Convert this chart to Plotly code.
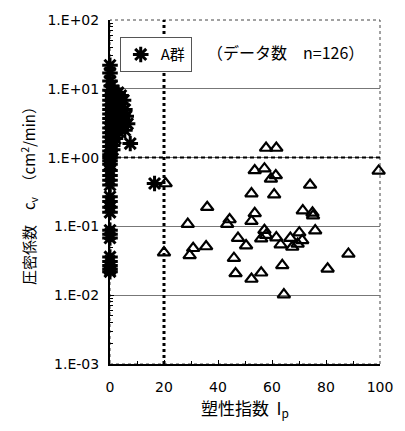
import plotly.graph_objects as go

# A群 (asterisks): plasticity index Ip, consolidation coefficient cv
ip_a = [0, 0, 0, 0.5,
        0, 0, 0, 0, 0, 0, 0, 0, 0, 0, 0, 0, 0, 0, 0,
        1, 1, 1, 1, 1, 1, 1, 1, 1, 1, 1, 1, 1,
        2, 2, 2, 2, 2, 2, 2, 2, 2, 2,
        3, 3, 3, 3, 3, 3, 3, 3,
        4, 4, 4, 4, 4, 4,
        5, 5.5, 6, 6.5, 5.5,
        7.5,
        0, 0, 0,
        0, 0, 0, 0,
        0, 0, 0, 0,
        0, 0, 0,
        0, 0, 0, 0, 0,
        16.5]
cv_a = [22, 17, 13, 11,
        9.5, 8, 6.8, 5.8, 5, 4.3, 3.7, 3.2, 2.7, 2.3, 2.0, 1.7, 1.45, 1.25, 1.1,
        9, 7.2, 6, 5.2, 4.5, 3.9, 3.4, 2.9, 2.5, 2.1, 1.8, 1.5, 1.3,
        8.5, 7.6, 6.5, 5.5, 4.8, 4.0, 3.3, 2.6, 2.2, 1.9,
        8.8, 7.0, 5.9, 5.0, 4.2, 3.6, 3.0, 2.4,
        8, 6.2, 4.6, 3.8, 3.2, 2.7,
        6.8, 5.0, 4.0, 3.1, 2.5,
        1.6,
        1.0, 0.9, 0.8,
        0.65, 0.55, 0.47, 0.40,
        0.27, 0.23, 0.19, 0.16,
        0.088, 0.077, 0.068,
        0.036, 0.031, 0.027, 0.024, 0.022,
        0.42]

# Other data (triangles)
ip_tri = [57.8, 61.6, 53.6, 57.2, 59.6, 61.4, 99.5, 74.1, 52.4, 60.8,
          36.0, 53.6, 71.4, 75.0, 75.2, 44.3, 52.4, 43.4, 28.8, 57.2,
          76.0, 70.1, 57.8, 56.0, 47.4, 61.6, 66.8, 71.2, 63.2, 69.5,
          67.5, 50.4, 30.8, 35.6, 20.0, 29.5, 45.9, 88.3, 63.8, 80.6,
          46.5, 56.0, 52.4, 64.4, 20.6]
cv_tri = [1.38, 1.38, 0.65, 0.69, 0.49, 0.55, 0.64, 0.40, 0.30, 0.29,
          0.19, 0.155, 0.17, 0.157, 0.143, 0.126, 0.119, 0.108, 0.108, 0.088,
          0.087, 0.081, 0.0746, 0.0665, 0.0676, 0.0687, 0.0676, 0.0627, 0.0542, 0.0555,
          0.0502, 0.0527, 0.0481, 0.051, 0.0416, 0.038, 0.0345, 0.0398, 0.0272, 0.0242,
          0.0207, 0.0212, 0.0172, 0.0102, 0.42]

ytick_vals = [1e-3, 1e-2, 1e-1, 1, 10, 100]
ytick_text = ["1.E-03", "1.E-02", "1.E-01", "1.E+00", "1.E+01", "1.E+02"]
xtick_vals = [0, 20, 40, 60, 80, 100]
minor_mult = [2, 3, 4, 5, 6, 7, 8, 9]
y_minor = [m * d for d in [1e-3, 1e-2, 1e-1, 1, 10] for m in minor_mult]

latin = "DejaVu Sans, Liberation Sans, Noto Sans CJK JP"
jp = "Noto Sans CJK JP, Liberation Sans"

fig = go.Figure()
fig.add_trace(go.Scatter(
    x=ip_tri, y=cv_tri, mode="markers", showlegend=False, cliponaxis=False,
    marker=dict(symbol="triangle-up-open", size=11, color="black",
                line=dict(width=2.2, color="black"))))
fig.add_trace(go.Scatter(
    x=ip_a, y=cv_a, mode="markers", name="A群", cliponaxis=False,
    marker=dict(symbol="asterisk-open", size=13, color="black",
                line=dict(width=3, color="black"))))

fig.add_shape(type="rect", xref="paper", yref="paper", x0=0, x1=1, y0=0, y1=1,
              line=dict(color="#444", width=1, dash="dot"), layer="below")
fig.add_shape(type="line", xref="paper", yref="y", x0=0, x1=1, y0=1, y1=1,
              line=dict(color="black", width=2, dash="4px,3px"))
fig.add_shape(type="line", xref="x", yref="paper", x0=20, x1=20, y0=0, y1=1,
              line=dict(color="black", width=3, dash="dot"))

fig.add_annotation(x=0.65, y=0.948, xref="paper", yref="paper",
                   text="（データ数　n=126）", showarrow=False,
                   font=dict(family=jp, size=16, color="black"))

fig.update_layout(
    width=405, height=431,
    margin=dict(l=110, r=18, t=17, b=67),
    paper_bgcolor="white", plot_bgcolor="white",
    font=dict(family=latin, size=14, color="black"),
    legend=dict(x=0.036, y=0.95, xanchor="left", yanchor="top",
                bgcolor="white", bordercolor="#555", borderwidth=1,
                font=dict(family=jp, size=15), itemwidth=30,
                tracegroupgap=0),
    xaxis=dict(range=[0, 100], tickmode="array", tickvals=xtick_vals,
               ticks="inside", ticklen=4, tickcolor="black",
               minor=dict(dtick=10, ticks="inside", ticklen=3, tickcolor="black"),
               showgrid=False, zeroline=False, showline=True,
               linecolor="black", linewidth=2,
               tickfont=dict(family=latin, size=14), ticklabelstandoff=9,
               title=dict(text="塑性指数  I<sub>p</sub>", font=dict(family=jp, size=17),
                          standoff=6)),
    yaxis=dict(type="log", range=[-3, 2], tickmode="array",
               tickvals=ytick_vals, ticktext=ytick_text,
               ticks="inside", ticklen=4, tickcolor="black",
               minor=dict(tickmode="array", tickvals=y_minor, ticks="inside",
                          ticklen=3, tickcolor="black", showgrid=False),
               showgrid=True, gridcolor="#777", gridwidth=1,
               zeroline=False, showline=True, linecolor="black", linewidth=2,
               tickfont=dict(family=latin, size=14), ticklabelstandoff=6,
               title=dict(text="圧密係数　c<sub>v</sub>　（cm<sup>2</sup>/min）",
                          font=dict(family=jp, size=15), standoff=8)),
)

fig.write_html("out.html")
